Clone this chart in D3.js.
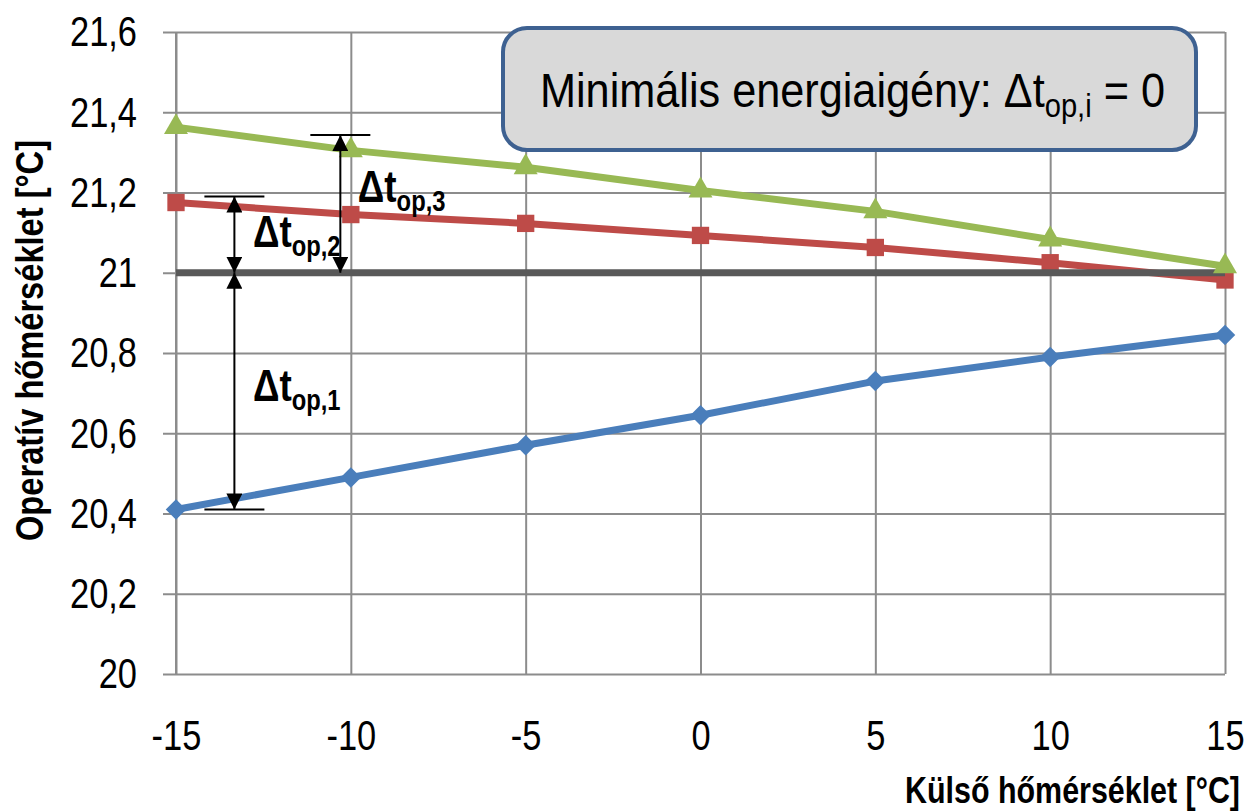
<!DOCTYPE html>
<html>
<head>
<meta charset="utf-8">
<script src="https://cdn.jsdelivr.net/npm/d3@7"></script>
<style>
  body { margin: 0; background: #fff; }
  svg { display: block; font-family: "Liberation Sans", Arial, sans-serif; }
  .grid line { stroke: #8c8c8c; stroke-width: 2; }
  .grid path { display: none; }
  .grid text { fill: #000; font-size: 42px; }
</style>
</head>
<body>
<div id="chart"></div>
<script>
// külső hőmérséklet (x) és operatív hőmérséklet sorozatok
const outdoorTemps = [-15, -10, -5, 0, 5, 10, 15];
const series1 = [20.41, 20.49, 20.57, 20.645, 20.73, 20.79, 20.845];   // kék
const series2 = [21.175, 21.145, 21.123, 21.093, 21.063, 21.025, 20.982]; // piros
const series3 = [21.363, 21.305, 21.263, 21.205, 21.153, 21.083, 21.016]; // zöld
const setpoint = 21;

const yTicks = [20, 20.2, 20.4, 20.6, 20.8, 21, 21.2, 21.4, 21.6];
const xTicks = [-15, -10, -5, 0, 5, 10, 15];

// Δt jelölések: x helye, alsó és felső érték, felirat helye
const deltaNames = ["1", "2", "3"];
const deltaX = [-13.33, -13.33, -10.3];
const deltaLow = [20.41, 21, 21];
const deltaHigh = [21, 21.19, 21.343];
const deltaCapAt = ["low", "high", "high"];
const deltaLabelX = [-12.8, -12.8, -9.8];
const deltaLabelY = [20.68, 21.064, 21.176];

const W = 1248, H = 812;
const plotLeft = 176, plotRight = 1225, plotTop = 32, plotBottom = 674;
const NARROW = 0.82; // Arial Narrow helyett összenyomott Liberation Sans

const svg = d3.select("#chart").append("svg")
    .attr("width", W)
    .attr("height", H);

const x = d3.scaleLinear().domain([-15, 15]).range([plotLeft, plotRight]);
const y = d3.scaleLinear().domain([20, 21.6]).range([plotBottom, plotTop]);

const fmt = d => d3.format(".1f")(d).replace(".0", "").replace(".", ",");

function narrow(sel, f) {
  sel.each(function() {
    const t = d3.select(this);
    const xv = +t.attr("x") || 0;
    t.attr("x", xv / f).attr("transform", `scale(${f},1)`);
  });
}

// vízszintes rács + y tengely feliratok
svg.append("g")
    .attr("class", "grid")
    .attr("transform", `translate(${plotRight},0)`)
    .call(d3.axisLeft(y).tickValues(yTicks).tickSize(plotRight - plotLeft + 13).tickSizeOuter(0).tickPadding(26).tickFormat(fmt))
    .call(g => g.selectAll("text").attr("dy", "0.33em").call(narrow, NARROW));

// függőleges rács + x tengely feliratok
svg.append("g")
    .attr("class", "grid")
    .attr("transform", `translate(0,${plotTop})`)
    .call(d3.axisBottom(x).tickValues(xTicks).tickSize(plotBottom - plotTop).tickSizeOuter(0).tickPadding(36).tickFormat(d => String(d)))
    .call(g => g.selectAll("text").attr("dy", "0.95em").call(narrow, NARROW));

// y tengely vonal
svg.append("line")
    .attr("x1", plotLeft).attr("x2", plotLeft)
    .attr("y1", plotTop).attr("y2", plotBottom)
    .attr("stroke", "#8c8c8c").attr("stroke-width", 2);

const line = d3.line().x((d, i) => x(outdoorTemps[i])).y(d => y(d));

function drawSeries(values, color, symbol, size, rotate) {
  svg.append("path")
      .datum(values)
      .attr("d", line)
      .attr("fill", "none")
      .attr("stroke", color)
      .attr("stroke-width", 7)
      .attr("stroke-linejoin", "round");
  svg.append("g").selectAll("path")
      .data(values)
      .join("path")
      .attr("d", d3.symbol().type(symbol).size(size))
      .attr("transform", (d, i) => `translate(${x(outdoorTemps[i])},${y(d)}) rotate(${rotate})`)
      .attr("fill", color);
}

drawSeries(series1, "#4a7ebb", d3.symbolSquare, 210, 45);
drawSeries(series2, "#be4b48", d3.symbolSquare, 300, 0);

// 21 °C alapvonal
svg.append("path")
    .datum(outdoorTemps.map(() => setpoint))
    .attr("d", line)
    .attr("fill", "none")
    .attr("stroke", "#595959")
    .attr("stroke-width", 7);

drawSeries(series3, "#98b954", d3.symbolTriangle, 250, 0);

// nyílhegyek
const defs = svg.append("defs");
defs.append("marker")
    .attr("id", "arrow")
    .attr("markerUnits", "userSpaceOnUse")
    .attr("viewBox", "0 0 16 16")
    .attr("refX", 16).attr("refY", 8)
    .attr("markerWidth", 16).attr("markerHeight", 16)
    .attr("orient", "auto-start-reverse")
  .append("path")
    .attr("d", "M0,0 L16,8 L0,16 Z")
    .attr("fill", "#000");

deltaNames.forEach((name, i) => {
  const xp = x(deltaX[i]);
  svg.append("line")
      .attr("x1", xp).attr("x2", xp)
      .attr("y1", y(deltaHigh[i])).attr("y2", y(deltaLow[i]))
      .attr("stroke", "#000").attr("stroke-width", 2)
      .attr("marker-start", "url(#arrow)")
      .attr("marker-end", "url(#arrow)");
  const capY = deltaCapAt[i] === "low" ? y(deltaLow[i]) : y(deltaHigh[i]);
  svg.append("line")
      .attr("x1", xp - 30).attr("x2", xp + 30)
      .attr("y1", capY).attr("y2", capY)
      .attr("stroke", "#000").attr("stroke-width", 2);
  const t = svg.append("text")
      .attr("x", x(deltaLabelX[i]))
      .attr("y", y(deltaLabelY[i]))
      .attr("font-weight", "bold")
      .attr("font-size", 45);
  t.append("tspan").text("Δt");
  t.append("tspan").attr("dy", 9).attr("font-size", 29).text("op," + name);
  t.call(narrow, NARROW);
});

// szövegdoboz
svg.append("rect")
    .attr("x", 503).attr("y", 28)
    .attr("width", 693).attr("height", 122)
    .attr("rx", 24)
    .attr("fill", "#d9d9d9")
    .attr("stroke", "#3e6191")
    .attr("stroke-width", 4);

const boxText = svg.append("text")
    .attr("x", 540).attr("y", 107)
    .attr("font-size", 49)
    .attr("textLength", 625)
    .attr("lengthAdjust", "spacingAndGlyphs");
boxText.append("tspan").text("Minimális energiaigény: Δt");
boxText.append("tspan").attr("dy", 10).attr("font-size", 33).text("op,i");
boxText.append("tspan").attr("dy", -10).text(" = 0");

// tengelycímek
svg.append("text")
    .attr("x", 905).attr("y", 803)
    .attr("font-weight", "bold")
    .attr("font-size", 37)
    .attr("textLength", 335)
    .attr("lengthAdjust", "spacingAndGlyphs")
    .text("Külső hőmérséklet [°C]");

svg.append("text")
    .attr("transform", `translate(43,541) rotate(-90)`)
    .attr("font-weight", "bold")
    .attr("font-size", 38)
    .attr("textLength", 401)
    .attr("lengthAdjust", "spacingAndGlyphs")
    .text("Operatív hőmérséklet [°C]");
</script>
</body>
</html>
